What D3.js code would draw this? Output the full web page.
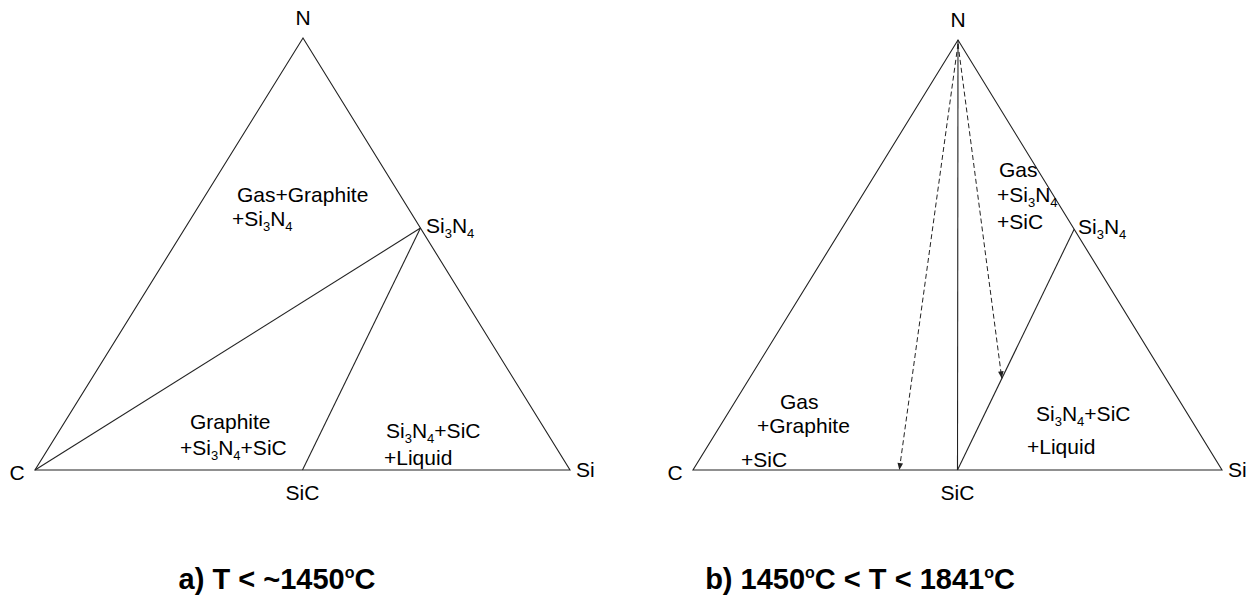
<!DOCTYPE html>
<html>
<head>
<meta charset="utf-8">
<script src="https://cdn.jsdelivr.net/npm/d3@7"></script>
<style>
  body { margin: 0; background: #fff; }
  svg { display: block; }
</style>
</head>
<body>
<div id="chart"></div>
<script>
// Compositions are fractions [C, Si, N]
var cornerNames = ["C", "Si", "N"];
var cornerComps = [[1, 0, 0], [0, 1, 0], [0, 0, 1]];
var sicComp = [0.5, 0.5, 0];
var si3n4Comp = [0, 0.44, 0.56];

// Tie lines drawn in each diagram (by phase name)
var tieLinesA = [["C", "Si3N4"], ["SiC", "Si3N4"]];
var tieLinesB = [["N", "SiC"], ["SiC", "Si3N4"]];

// Dashed arrows in diagram b: start phase, end composition
var arrowStartsB = ["N", "N"];
var arrowEndsB = [[0.61, 0.39, 0], [0.31, 0.477, 0.213]];

// Region labels ("_" marks a subscript digit)
var regionLinesA = [["Gas+Graphite", "+Si_3N_4"], ["Graphite", "+Si_3N_4+SiC"], ["Si_3N_4+SiC", "+Liquid"]];
var regionLinesB = [["Gas", "+Si_3N_4", "+SiC"], ["Gas", "+Graphite", "+SiC"], ["Si_3N_4+SiC", "+Liquid"]];
var titles = ["a) T < ~1450", "b) 1450", " < T < 1841"];

// ---- layout ----
var W = 1258, H = 611;
var panels = [
  {C: [35, 470], Si: [570, 470], N: [303, 38], ties: tieLinesA, regions: regionLinesA,
   regionPos: [[[237, 202], [232, 226]], [[190, 429], [180, 455]], [[386, 438], [384, 465]]],
   si3n4Label: [426, 233], titleX: 277},
  {C: [693, 470], Si: [1222, 470], N: [958, 40], ties: tieLinesB, regions: regionLinesB,
   regionPos: [[[999, 177], [997, 202], [997, 229]], [[780, 409], [757, 433], [741, 467]], [[1036, 421], [1027, 454]]],
   si3n4Label: [1078, 234], titleX: 860}
];

var fs = 21;

var svg = d3.select("#chart").append("svg")
  .attr("width", W).attr("height", H)
  .style("font-family", "'Liberation Sans', Arial, sans-serif");

svg.append("rect").attr("width", W).attr("height", H).attr("fill", "#fff");

svg.append("defs").append("marker")
  .attr("id", "arrow")
  .attr("viewBox", "0 0 10 10")
  .attr("refX", 10).attr("refY", 5)
  .attr("markerWidth", 8).attr("markerHeight", 7)
  .attr("markerUnits", "userSpaceOnUse")
  .attr("orient", "auto")
  .append("path").attr("d", "M0,1 L10,5 L0,9 Z").attr("fill", "#222");

// write text with "_d" as subscript
function richText(sel, str, size) {
  var parts = str.split(/(_\d)/).filter(function(s) { return s.length; });
  var low = false;
  parts.forEach(function(p) {
    if (p[0] === "_") {
      sel.append("tspan").attr("dy", 5).attr("font-size", size * 0.62).text(p[1]);
      low = true;
    } else {
      sel.append("tspan").attr("dy", low ? -5 : 0).text(p);
      low = false;
    }
  });
}

panels.forEach(function(p, i) {
  // ternary scales: x along base, y by N fraction
  var xs = d3.scaleLinear().domain([0, 1]).range([p.C[0], p.Si[0]]);
  var ys = d3.scaleLinear().domain([0, 1]).range([p.C[1], p.N[1]]);
  var apexShift = (p.N[0] - p.C[0]) / (p.Si[0] - p.C[0]);
  function pos(c) { return [xs(c[1] + c[2] * apexShift), ys(c[2])]; }

  var phases = {C: cornerComps[0], Si: cornerComps[1], N: cornerComps[2], SiC: sicComp, Si3N4: si3n4Comp};
  var g = svg.append("g");
  var line = d3.line();

  // outer triangle
  g.append("path")
    .attr("d", line(cornerComps.map(pos)) + "Z")
    .attr("fill", "none").attr("stroke", "#222").attr("stroke-width", 1.1);

  g.selectAll("line.tie").data(p.ties).enter().append("line")
    .attr("class", "tie")
    .attr("x1", function(d) { return pos(phases[d[0]])[0]; })
    .attr("y1", function(d) { return pos(phases[d[0]])[1]; })
    .attr("x2", function(d) { return pos(phases[d[1]])[0]; })
    .attr("y2", function(d) { return pos(phases[d[1]])[1]; })
    .attr("stroke", "#222").attr("stroke-width", 1.1);

  if (i === 1) {
    g.selectAll("line.arr").data(arrowEndsB).enter().append("line")
      .attr("class", "arr")
      .attr("x1", function(d, k) { return pos(phases[arrowStartsB[k]])[0]; })
      .attr("y1", function(d, k) { return pos(phases[arrowStartsB[k]])[1] + 4; })
      .attr("x2", function(d) { return pos(d)[0]; })
      .attr("y2", function(d) { return pos(d)[1]; })
      .attr("stroke", "#222").attr("stroke-width", 1)
      .attr("stroke-dasharray", "5,3")
      .attr("marker-end", "url(#arrow)");
  }

  // corner labels
  g.append("text").attr("x", pos(phases.N)[0]).attr("y", pos(phases.N)[1] - 13)
    .attr("text-anchor", "middle").attr("font-size", fs).text(cornerNames[2]);
  g.append("text").attr("x", pos(phases.C)[0] - 18).attr("y", pos(phases.C)[1] + 10)
    .attr("text-anchor", "middle").attr("font-size", fs).text(cornerNames[0]);
  g.append("text").attr("x", pos(phases.Si)[0] + 6).attr("y", pos(phases.Si)[1] + 7)
    .attr("font-size", fs).text(cornerNames[1]);
  g.append("text").attr("x", pos(phases.SiC)[0]).attr("y", pos(phases.SiC)[1] + 30)
    .attr("text-anchor", "middle").attr("font-size", fs).text("SiC");
  var t = g.append("text").attr("x", p.si3n4Label[0]).attr("y", p.si3n4Label[1])
    .attr("font-size", fs);
  richText(t, "Si_3N_4", fs);

  // region labels
  p.regions.forEach(function(lines, r) {
    lines.forEach(function(s, k) {
      var tt = g.append("text")
        .attr("x", p.regionPos[r][k][0])
        .attr("y", p.regionPos[r][k][1])
        .attr("font-size", fs);
      richText(tt, s, fs);
    });
  });
});

// panel titles
function title(x, parts) {
  var t = svg.append("text").attr("x", x).attr("y", 589)
    .attr("text-anchor", "middle").attr("font-size", 29).attr("font-weight", "bold");
  parts.forEach(function(s) {
    t.append("tspan").attr("dy", 0).text(s);
    t.append("tspan").attr("dy", -11).attr("font-size", 16).text("o");
    t.append("tspan").attr("dy", 11).text("C");
  });
}
title(panels[0].titleX, [titles[0]]);
title(panels[1].titleX, [titles[1], titles[2]]);
</script>
</body>
</html>
